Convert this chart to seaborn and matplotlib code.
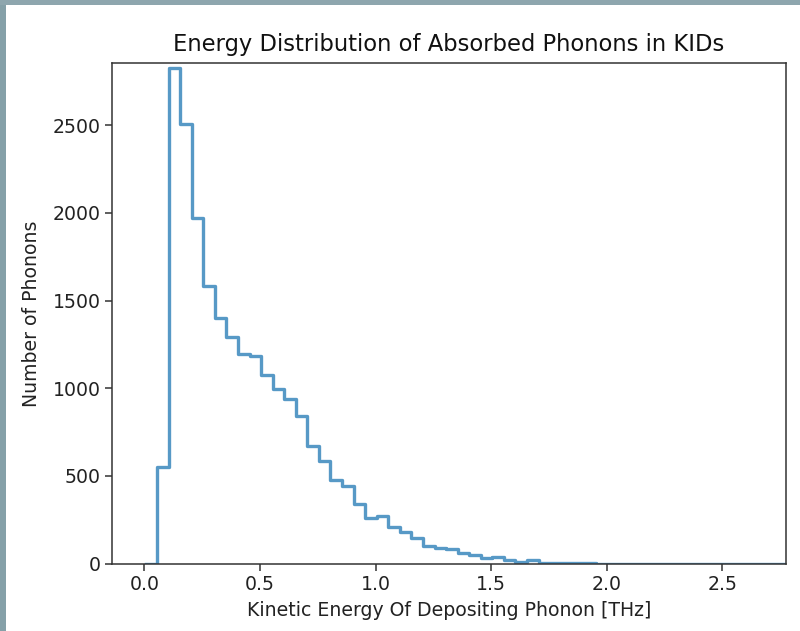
import numpy as np
import pandas as pd
import matplotlib
matplotlib.use("Agg")
import matplotlib.pyplot as plt
import seaborn as sns
from matplotlib.patches import Rectangle

# ---- data ----
title = "Energy Distribution of Absorbed Phonons in KIDs"
x_label = "Kinetic Energy Of Depositing Phonon [THz]"
y_label = "Number of Phonons"
first_edge = 0.005      # THz
bin_width = 0.05        # THz
phonon_counts = [
    0, 549, 2828, 2506, 1968, 1580, 1398, 1294, 1195, 1185,
    1074, 997, 937, 843, 672, 587, 477, 443, 340, 262,
    271, 207, 182, 145, 101, 91, 84, 60, 50, 30,
    40, 22, 10, 22, 5, 4, 3, 2, 2, 0,
    0, 0, 0, 0, 0, 0, 0, 0, 0, 0,
    0, 0, 0, 0, 0, 0, 0, 0,
]
x_ticks = [0.0, 0.5, 1.0, 1.5, 2.0, 2.5]
y_ticks = [0, 500, 1000, 1500, 2000, 2500]

n_bins = len(phonon_counts)
edges = first_edge + bin_width * np.arange(n_bins + 1)
centers = (edges[:-1] + edges[1:]) / 2
df = pd.DataFrame({"energy": centers, "count": phonon_counts})

# ---- figure ----
W, H = 800, 631
fig = plt.figure(figsize=(W / 100, H / 100), dpi=100)
fig.patch.set_facecolor("white")

# screenshot frame (left and top bars)
fig.patches.append(Rectangle((0, 0), 6 / W, 1, transform=fig.transFigure,
                             facecolor="#85a0a8", edgecolor="none", zorder=0))
fig.patches.append(Rectangle((0, 1 - 5 / H), 1, 5 / H, transform=fig.transFigure,
                             facecolor="#8ea6ae", edgecolor="none", zorder=0))

left, right, top, bottom = 112, 785.7, 63.3, 563.7
ax = fig.add_axes([left / W, 1 - bottom / H, (right - left) / W, (bottom - top) / H])

sns.histplot(data=df, x="energy", weights="count",
             binwidth=bin_width, binrange=(float(edges[0]), float(edges[-1])),
             element="step", fill=False, color="#1f77b4", alpha=0.75,
             linewidth=2.4, ax=ax)

ax.set_xlim(-0.14, 2.774)
ax.set_ylim(0, 2852)
ax.set_xticks(x_ticks)
ax.set_yticks(y_ticks)
ax.set_xticklabels([f"{t:.1f}" for t in x_ticks])
ax.set_yticklabels([str(t) for t in y_ticks])

fs = 13.6
ax.tick_params(labelsize=fs, length=4.8, width=1.1, color="#333333", labelcolor="#222222")
for s in ax.spines.values():
    s.set_linewidth(1.1)
    s.set_color("#333333")
ax.set_xlabel(x_label, fontsize=fs, color="#222222", labelpad=5)
ax.set_ylabel(y_label, fontsize=fs, color="#222222", labelpad=8)
ax.set_title(title, fontsize=16.3, color="#111111", pad=9)

fig.savefig("out.png", dpi=100)
